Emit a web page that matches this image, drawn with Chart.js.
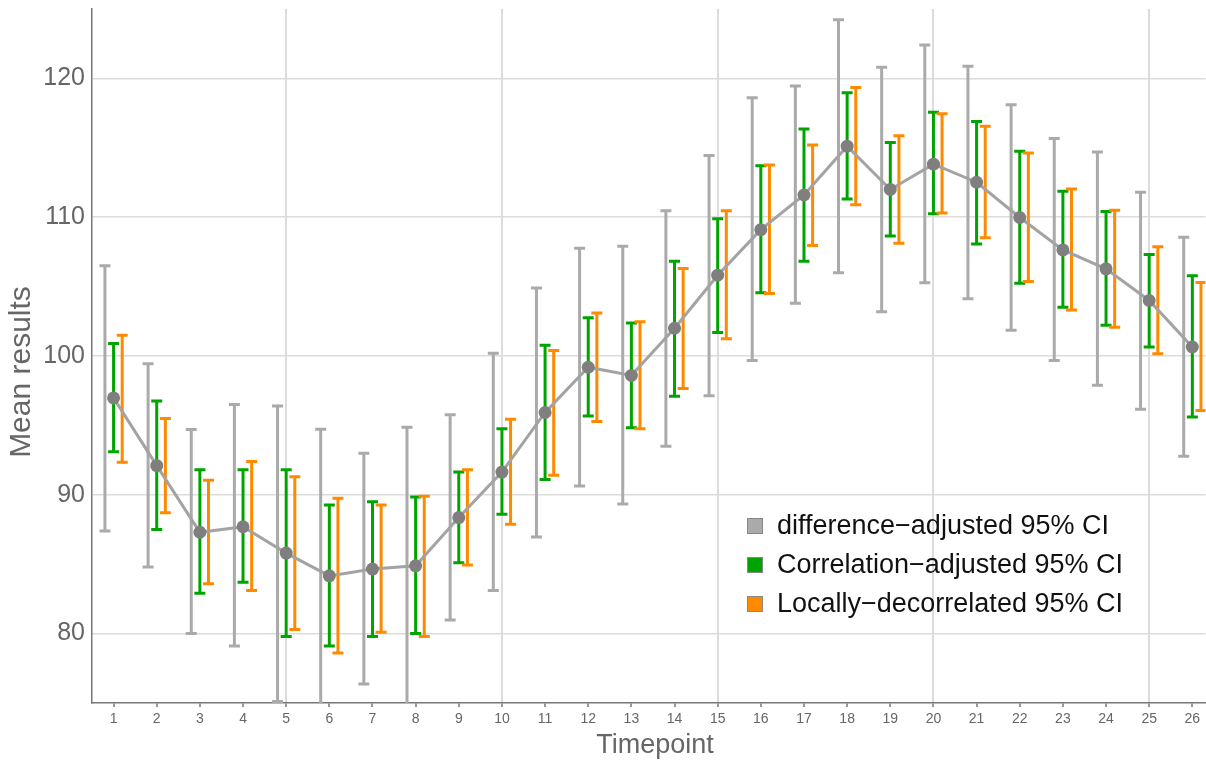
<!DOCTYPE html>
<html>
<head>
<meta charset="utf-8">
<script src="https://cdn.jsdelivr.net/npm/chart.js@4.4.1/dist/chart.umd.min.js"></script>
<style>
  html, body { margin: 0; padding: 0; background: #fff; overflow: hidden; width: 1206px; height: 762px; position: relative; }
  #wrap { position: absolute; top: -13px; left: 0; width: 1212px; height: 775px; }
</style>
</head>
<body>
<div id="wrap"><canvas id="ciChart"></canvas></div>
<script>
// Timepoints and mean results
const timepoints = [1, 2, 3, 4, 5, 6, 7, 8, 9, 10, 11, 12, 13, 14, 15, 16, 17, 18, 19, 20, 21, 22, 23, 24, 25, 26];
const means = [96.98, 92.1, 87.3, 87.7, 85.8, 84.16, 84.65, 84.88, 88.36, 91.64, 95.93, 99.19, 98.6, 102.0, 105.82, 109.1, 111.6, 115.12, 112.0, 113.82, 112.52, 109.98, 107.64, 106.28, 104.0, 100.65];

// difference-adjusted 95% CI
const diffLo = [87.4, 84.8, 80.0, 79.1, 75.1, 73.6, 76.36, 74.9, 80.98, 83.1, 86.96, 90.63, 89.33, 93.5, 97.14, 99.68, 103.8, 106.0, 103.19, 105.27, 104.13, 101.85, 99.67, 97.89, 96.16, 92.78];
const diffHi = [106.5, 99.45, 94.7, 96.5, 96.4, 94.73, 93.0, 94.86, 95.77, 100.2, 104.9, 107.77, 107.9, 110.47, 114.44, 118.6, 119.45, 124.23, 120.81, 122.4, 120.88, 118.1, 115.67, 114.7, 111.8, 108.55];

// Correlation-adjusted 95% CI
const corrLo = [93.1, 87.5, 82.9, 83.7, 79.8, 79.1, 79.8, 80.0, 85.1, 88.6, 91.1, 95.67, 94.83, 97.1, 101.69, 104.55, 106.83, 111.32, 108.65, 110.24, 108.07, 105.24, 103.51, 102.21, 100.65, 95.61];
const corrHi = [100.9, 96.75, 91.8, 91.8, 91.8, 89.27, 89.5, 89.85, 91.64, 94.76, 100.78, 102.76, 102.37, 106.83, 109.89, 113.7, 116.36, 118.96, 115.38, 117.56, 116.9, 114.76, 111.87, 110.41, 107.32, 105.79];

// Locally-decorrelated 95% CI
const locLo = [92.35, 88.7, 83.6, 83.1, 80.3, 78.6, 80.1, 79.8, 84.94, 87.87, 91.4, 95.28, 94.76, 97.66, 101.24, 104.5, 107.97, 110.9, 108.13, 110.3, 108.52, 105.37, 103.32, 102.08, 100.16, 96.07];
const locHi = [101.5, 95.5, 91.05, 92.4, 91.3, 89.76, 89.27, 89.9, 91.8, 95.45, 100.4, 103.1, 102.47, 106.3, 110.47, 113.76, 115.2, 119.35, 115.87, 117.46, 116.55, 114.63, 112.03, 110.5, 107.87, 105.3];

const yTicks = [80, 90, 100, 110, 120];
const legendLabels = ['difference\u2212adjusted 95% CI', 'Correlation\u2212adjusted 95% CI', 'Locally\u2212decorrelated 95% CI'];

const FONT = '"Liberation Sans", Arial, sans-serif';
const GRAY = '#aaaaaa';
const GREEN = '#00a400';
const ORANGE = '#ff8a00';

const ciSets = [
    { lo: diffLo, hi: diffHi, color: GRAY, shift: -0.2 },
    { lo: corrLo, hi: corrHi, color: GREEN, shift: 0 },
    { lo: locLo, hi: locHi, color: ORANGE, shift: 0.2 }
];

// draws the error bars under the mean line, then legend and axis titles on top
const errorBars = {
    id: 'errorBars',
    beforeDatasetsDraw(chart) {
        const { ctx, chartArea, scales: { x, y } } = chart;
        ctx.save();
        ctx.beginPath();
        ctx.rect(chartArea.left, chartArea.top, chartArea.right - chartArea.left, chartArea.bottom - chartArea.top);
        ctx.clip();
        ctx.lineWidth = 3;
        ctx.lineCap = 'butt';
        ciSets.forEach(set => {
            ctx.strokeStyle = set.color;
            timepoints.forEach((t, i) => {
                const px = x.getPixelForValue(t + set.shift);
                const top = y.getPixelForValue(set.hi[i]);
                const bot = y.getPixelForValue(set.lo[i]);
                ctx.beginPath();
                ctx.moveTo(px, top);
                ctx.lineTo(px, bot);
                ctx.moveTo(px - 5.5, top);
                ctx.lineTo(px + 5.5, top);
                ctx.moveTo(px - 5.5, bot);
                ctx.lineTo(px + 5.5, bot);
                ctx.stroke();
            });
        });
        ctx.restore();
    },
    afterDraw(chart) {
        const { ctx, chartArea } = chart;
        // legend inside the plot
        const bx = chartArea.left + 655;
        const by = chartArea.top + 517;
        ctx.save();
        ctx.font = '27px ' + FONT;
        ctx.textBaseline = 'middle';
        ciSets.forEach((set, i) => {
            const cy = by + i * 39;
            ctx.fillStyle = set.color;
            ctx.fillRect(bx, cy - 8, 16, 16);
            ctx.strokeStyle = '#888';
            ctx.lineWidth = 1;
            ctx.strokeRect(bx + 0.5, cy - 7.5, 15, 15);
            ctx.fillStyle = '#111';
            ctx.fillText(legendLabels[i], bx + 30, cy + 1);
        });

        // axis titles
        ctx.fillStyle = '#666';
        ctx.textAlign = 'center';
        ctx.font = '27px ' + FONT;
        ctx.fillText('Timepoint', chartArea.left + 563, chartArea.bottom + 43);
        ctx.translate(22, chartArea.top + 363);
        ctx.rotate(-Math.PI / 2);
        ctx.font = '30px ' + FONT;
        ctx.fillText('Mean results', 0, 0);
        ctx.restore();
    }
};

const ctx = document.getElementById('ciChart').getContext('2d');
const ciChart = new Chart(ctx, {
    type: 'line',
    data: {
        datasets: [{
            label: 'Mean',
            data: timepoints.map((t, i) => ({ x: t, y: means[i] })),
            borderColor: '#a3a3a3',
            borderWidth: 3,
            pointRadius: 6.5,
            pointBackgroundColor: '#7f7f7f',
            pointBorderWidth: 0,
            tension: 0
        }]
    },
    options: {
        responsive: true,
        maintainAspectRatio: false,
        animation: false,
        layout: { padding: { top: 8, left: 0, right: 0, bottom: 0 } },
        plugins: {
            legend: { display: false },
            tooltip: { enabled: false }
        },
        scales: {
            x: {
                type: 'linear',
                min: 0.5,
                max: 26.305,
                afterBuildTicks: scale => { scale.ticks = timepoints.map(v => ({ value: v })); },
                afterFit: scale => { scale.height = 59; },
                grid: {
                    color: c => (c.tick && c.tick.value % 5 === 0) ? '#dcdcdc' : 'rgba(0,0,0,0)',
                    lineWidth: 2,
                    tickColor: '#999',
                    tickLength: 4,
                    drawTicks: true
                },
                border: { color: '#777', width: 1.5 },
                ticks: {
                    color: '#666',
                    font: { family: FONT, size: 14 },
                    padding: 4,
                    maxRotation: 0,
                    autoSkip: false
                }
            },
            y: {
                min: 75,
                max: 125,
                afterBuildTicks: scale => { scale.ticks = yTicks.map(v => ({ value: v })); },
                afterFit: scale => { scale.width = 92; },
                grid: { color: '#dcdcdc', lineWidth: 1.5, drawTicks: false },
                border: { color: '#777', width: 1.5 },
                ticks: {
                    color: '#666',
                    font: { family: FONT, size: 25 },
                    padding: 7
                }
            }
        }
    },
    plugins: [errorBars]
});
</script>
</body>
</html>
